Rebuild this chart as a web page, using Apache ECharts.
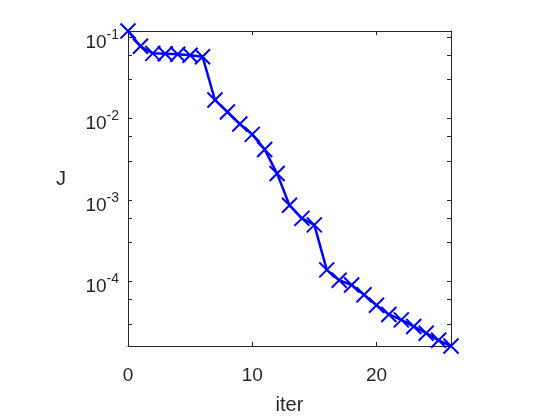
<!DOCTYPE html>
<html>
<head>
<meta charset="utf-8">
<script src="https://cdn.jsdelivr.net/npm/echarts@6/dist/echarts.min.js"></script>
<style>
  html, body { margin: 0; padding: 0; background: #fff; }
  #chart { width: 560px; height: 420px; }
</style>
</head>
<body>
<div id="chart"></div>
<script>
// iteration index and cost J
const iters = [0, 1, 2, 3, 4, 5, 6, 7, 8, 9, 10, 11, 12, 13, 14, 15, 16, 17, 18, 19, 20, 21, 22, 23, 24, 25, 26];
const costJ = [0.119, 0.0773, 0.0632, 0.0625, 0.0615, 0.0598, 0.0575, 0.0169, 0.01205, 0.00855,
    0.00638, 0.00417, 0.00211, 0.000857, 0.000593, 0.000493, 0.000138, 0.000103, 0.0000898,
    0.0000681, 0.0000507, 0.0000391, 0.0000335, 0.0000278, 0.000023, 0.0000188, 0.000016];

// tick labels / marks
const xTicks = [0, 10, 20];
const yLabelTicks = [1e-4, 1e-3, 1e-2, 1e-1];
const yTickMarks = [3e-5, 6e-5, 1e-4, 3e-4, 6e-4, 1e-3, 3e-3, 6e-3, 1e-2, 3e-2, 6e-2, 1e-1];

const axisColor = '#262626';
const fontFamily = '"Liberation Sans", Arial, sans-serif';

const points = iters.map((x, i) => [x, costJ[i]]);

// 10^n with superscript exponent
function powLabel(value) {
    const exp = Math.round(Math.log10(value));
    return '{b|10}{s|' + exp + '}';
}

const chart = echarts.init(document.getElementById('chart'));

const baseX = {
    type: 'value',
    min: 0,
    max: 26,
    interval: 10,
    axisLine: { show: true, onZero: false, lineStyle: { color: axisColor, width: 1 } },
    axisTick: { show: true, inside: true, length: 4, customValues: xTicks, lineStyle: { color: axisColor } },
    splitLine: { show: false }
};

const baseY = {
    type: 'log',
    logBase: 10,
    min: 0.000016,
    max: 0.119,
    axisLine: { show: true, onZero: false, lineStyle: { color: axisColor, width: 1 } },
    axisTick: { show: true, inside: true, length: 4, customValues: yTickMarks, lineStyle: { color: axisColor } },
    splitLine: { show: false },
    minorTick: { show: false }
};

chart.setOption({
    backgroundColor: '#fff',
    animation: false,
    grid: { left: 128, right: 109, top: 31, bottom: 66 },
    xAxis: [
        Object.assign({}, baseX, {
            position: 'bottom',
            name: 'iter',
            nameLocation: 'middle',
            nameGap: 49,
            nameTextStyle: { color: axisColor, fontSize: 20, fontFamily: fontFamily },
            axisLabel: {
                show: true,
                customValues: xTicks,
                margin: 20,
                color: axisColor,
                fontSize: 19,
                fontFamily: fontFamily
            }
        }),
        Object.assign({}, baseX, {
            position: 'top',
            axisLabel: { show: false }
        })
    ],
    yAxis: [
        Object.assign({}, baseY, {
            position: 'left',
            name: 'J',
            nameLocation: 'middle',
            nameRotate: 0,
            nameGap: 62,
            nameTextStyle: { color: axisColor, fontSize: 20, fontFamily: fontFamily, verticalAlign: 'bottom', lineHeight: 18 },
            axisLabel: {
                show: true,
                customValues: yLabelTicks,
                margin: 9,
                formatter: powLabel,
                rich: {
                    b: { fontSize: 19, lineHeight: 19, padding: [11, 0, 0, 0], color: axisColor, fontFamily: fontFamily },
                    s: { fontSize: 14, lineHeight: 14, padding: [6, 0, 10, 0], color: axisColor, fontFamily: fontFamily }
                }
            }
        }),
        Object.assign({}, baseY, {
            position: 'right',
            axisLabel: { show: false }
        })
    ],
    series: [{
        type: 'line',
        data: points,
        xAxisIndex: 0,
        yAxisIndex: 0,
        clip: false,
        symbol: 'path://M0,0L10,10M10,0L0,10',
        symbolSize: 15,
        showAllSymbol: true,
        lineStyle: { color: '#0000ff', width: 2.5 },
        itemStyle: { color: '#0000ff', borderColor: '#0000ff', borderWidth: 2 }
    }]
});
</script>
</body>
</html>
